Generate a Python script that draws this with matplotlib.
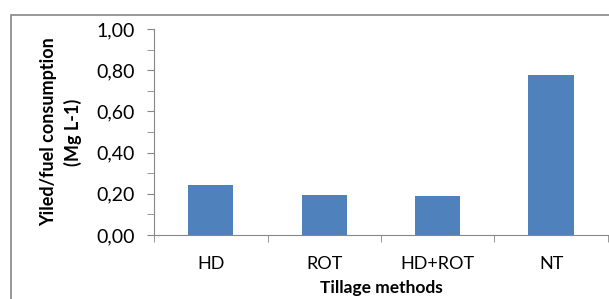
import matplotlib.pyplot as plt
from matplotlib.patches import Rectangle
from matplotlib.ticker import MultipleLocator, FuncFormatter

plt.rcParams['font.family'] = ['Lato', 'DejaVu Sans']

# datos del grafico
metodos = ['HD', 'ROT', 'HD+ROT', 'NT']
rendimiento = [0.243, 0.194, 0.190, 0.778]

fig = plt.figure(figsize=(6.09, 2.99), dpi=100)
ax = fig.add_axes([0.253, 0.214, 0.745, 0.689])

# marco exterior del grafico
fig.patches.append(Rectangle((11 / 609, -0.1), 1.2, 1 - 15 / 299 + 0.1,
                             transform=fig.transFigure, fill=False,
                             edgecolor='#868686', linewidth=1.2))

pos = range(len(metodos))
ax.bar(pos, rendimiento, width=0.4, color='#4F81BD')

ax.set_xlim(-0.5, len(metodos) - 0.5)
ax.set_ylim(0, 1.0)
ax.yaxis.set_major_locator(MultipleLocator(0.2))
ax.yaxis.set_minor_locator(MultipleLocator(0.1))
ax.yaxis.set_major_formatter(FuncFormatter(lambda v, p: f'{v:.2f}'.replace('.', ',')))

ax.set_xticks(pos)
ax.set_xticklabels(metodos)
ax.set_xticks([i - 0.5 for i in range(len(metodos) + 1)], minor=True)
ax.tick_params(axis='x', which='major', length=0, pad=15, labelsize=13)
ax.tick_params(axis='x', which='minor', length=5, color='#868686')
ax.tick_params(axis='y', which='both', length=5, color='#868686')
ax.tick_params(axis='y', which='major', labelsize=14, pad=9)

for lado in ['top', 'right']:
    ax.spines[lado].set_visible(False)
for lado in ['left', 'bottom']:
    ax.spines[lado].set_color('#868686')

ax.set_ylabel('Yiled/fuel consumption\n(Mg L-1)', fontsize=13, fontweight='bold',
              labelpad=10, linespacing=1.45)
ax.set_xlabel('Tillage methods', fontsize=12.5, fontweight='bold', labelpad=6)

plt.savefig('out.png', dpi=100)
